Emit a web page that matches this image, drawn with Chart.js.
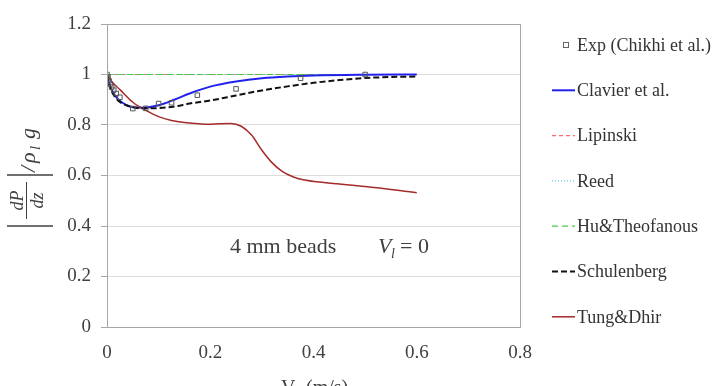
<!DOCTYPE html>
<html>
<head>
<meta charset="utf-8">
<script src="https://cdn.jsdelivr.net/npm/chart.js@4"></script>
<style>
  html, body { margin: 0; padding: 0; background: #fff; }
  #wrap { width: 717px; height: 386px; position: relative; }
</style>
</head>
<body>
<div id="wrap"><canvas id="chart"></canvas></div>
<script>
// values
const expX = [0, 0.002, 0.004, 0.006, 0.009, 0.013, 0.018, 0.025, 0.05, 0.075, 0.1, 0.125, 0.175, 0.25, 0.375, 0.5];
const expY = [1.0, 0.99, 0.975, 0.962, 0.95, 0.938, 0.925, 0.91, 0.865, 0.866, 0.885, 0.888, 0.918, 0.943, 0.985, 1.0];

const clavierX = [0, 0.005, 0.01, 0.02, 0.03, 0.04, 0.05, 0.07, 0.1, 0.13, 0.16, 0.2, 0.25, 0.3, 0.35, 0.4, 0.5, 0.6];
const clavierY = [1, 0.96, 0.935, 0.905, 0.888, 0.877, 0.871, 0.868, 0.878, 0.9, 0.925, 0.952, 0.972, 0.985, 0.992, 0.996, 0.999, 1.0];

const flatX = [0, 0.6];
const lipinskiY = [1, 1];
const reedY = [1, 1];
const huY = [1, 1];

const schulX = [0, 0.005, 0.01, 0.02, 0.03, 0.05, 0.07, 0.1, 0.13, 0.16, 0.2, 0.25, 0.3, 0.35, 0.4, 0.45, 0.5, 0.55, 0.6];
const schulY = [1, 0.955, 0.93, 0.9, 0.885, 0.87, 0.866, 0.867, 0.873, 0.885, 0.897, 0.917, 0.937, 0.953, 0.967, 0.978, 0.986, 0.99, 0.992];

const tungX = [0, 0.01, 0.025, 0.05, 0.078, 0.1, 0.125, 0.15, 0.2, 0.24, 0.26, 0.28, 0.3, 0.32, 0.34, 0.36, 0.38, 0.42, 0.5, 0.6];
const tungY = [1, 0.97, 0.94, 0.89, 0.855, 0.833, 0.818, 0.81, 0.803, 0.806, 0.795, 0.76, 0.7, 0.65, 0.615, 0.595, 0.583, 0.572, 0.556, 0.532];

const xTicks = [0, 0.2, 0.4, 0.6, 0.8];
const yTicks = [0, 0.2, 0.4, 0.6, 0.8, 1, 1.2];

const pts = (xs, ys) => xs.map((x, i) => ({ x: x, y: ys[i] }));

const SERIF = '"Liberation Serif", "Times New Roman", serif';
const TEXT = '#404040';

const datasets = [
    {
        label: 'Exp (Chikhi et al.)',
        data: pts(expX, expY),
        showLine: false,
        pointStyle: 'rect',
        pointRadius: 3.2,
        pointBorderColor: '#555',
        pointBackgroundColor: 'rgba(255,255,255,0)',
        pointBorderWidth: 1,
        order: 0
    }, {
        label: 'Clavier et al.',
        data: pts(clavierX, clavierY),
        borderColor: '#2222ee',
        borderWidth: 2,
        cubicInterpolationMode: 'monotone',
        order: 2
    }, {
        label: 'Lipinski',
        data: pts(flatX, lipinskiY),
        borderColor: '#ff6a6a',
        borderWidth: 1.2,
        borderDash: [4, 3],
        order: 5
    }, {
        label: 'Reed',
        data: pts(flatX, reedY),
        borderColor: '#5fd3ea',
        borderWidth: 1.2,
        borderDash: [1, 2],
        order: 4
    }, {
        label: 'Hu&Theofanous',
        data: pts(flatX, huY),
        borderColor: '#44cc44',
        borderWidth: 1.2,
        borderDash: [6, 4],
        order: 3
    }, {
        label: 'Schulenberg',
        data: pts(schulX, schulY),
        borderColor: '#111',
        borderWidth: 2,
        borderDash: [6, 3],
        cubicInterpolationMode: 'monotone',
        order: 1
    }, {
        label: 'Tung&Dhir',
        data: pts(tungX, tungY),
        borderColor: '#a52a2a',
        borderWidth: 1.5,
        cubicInterpolationMode: 'monotone',
        order: 1
    }
];
datasets.forEach(d => {
    if (d.showLine !== false) {
        d.showLine = true;
        d.pointRadius = 0;
        d.fill = false;
    }
});

// box around the plot area
const frame = {
    id: 'frame',
    afterDatasetsDraw(chart) {
        const { ctx, chartArea: a } = chart;
        ctx.save();
        ctx.strokeStyle = '#a6a6a6';
        ctx.lineWidth = 1;
        ctx.strokeRect(Math.round(a.left) + 0.5, Math.round(a.top) + 0.5, Math.round(a.right - a.left), Math.round(a.bottom - a.top));
        ctx.restore();
    }
};

// legend on the right, one item per dataset
const sideLegend = {
    id: 'sideLegend',
    afterDraw(chart) {
        const ctx = chart.ctx;
        const x0 = 552, x1 = 575, tx = 577;
        ctx.save();
        ctx.font = '18px ' + SERIF;
        ctx.textBaseline = 'middle';
        ctx.fillStyle = '#333';
        chart.data.datasets.forEach((d, i) => {
            const y = 45 + i * 45.3;
            if (d.showLine === false) {
                ctx.strokeStyle = '#666';
                ctx.lineWidth = 1;
                ctx.setLineDash([]);
                ctx.strokeRect(563.5, y - 2.5, 5, 5);
            } else {
                ctx.strokeStyle = d.borderColor;
                ctx.lineWidth = d.borderWidth;
                ctx.setLineDash(d.borderDash || []);
                ctx.beginPath();
                ctx.moveTo(x0, y);
                ctx.lineTo(x1, y);
                ctx.stroke();
            }
            ctx.fillText(d.label, tx, y + 1);
        });
        ctx.restore();
    }
};

// axis titles and the note inside the plot
const labels = {
    id: 'labels',
    afterDraw(chart) {
        const ctx = chart.ctx;
        ctx.save();
        ctx.fillStyle = TEXT;
        ctx.strokeStyle = TEXT;

        // y title |dP/dz| / rho_l g, turned on its side
        ctx.save();
        ctx.translate(30, 226);
        ctx.rotate(-Math.PI / 2);
        ctx.lineWidth = 1.5;
        ctx.beginPath();
        ctx.moveTo(0, -23); ctx.lineTo(0, 23);
        ctx.moveTo(51, -23); ctx.lineTo(51, 23);
        ctx.stroke();
        ctx.lineWidth = 1;
        ctx.beginPath();
        ctx.moveTo(7, -3.5); ctx.lineTo(44, -3.5);
        ctx.stroke();
        ctx.textAlign = 'center';
        ctx.textBaseline = 'alphabetic';
        ctx.font = 'italic 18px ' + SERIF;
        ctx.fillText('dP', 25.5, -7);
        ctx.fillText('dz', 25.5, 13);
        ctx.textAlign = 'left';
        ctx.font = 'italic 22px ' + SERIF;
        ctx.fillText('/', 54, 5);
        ctx.fillText('ρ', 63, 5);
        ctx.font = 'italic 15px ' + SERIF;
        ctx.fillText('l', 76, 10);
        ctx.font = 'italic 22px ' + SERIF;
        ctx.fillText('g', 87, 5);
        ctx.restore();

        // x title V_g (m/s)
        ctx.textBaseline = 'alphabetic';
        ctx.textAlign = 'left';
        ctx.font = '20px ' + SERIF;
        ctx.fillText('V', 281, 394);
        ctx.font = '13px ' + SERIF;
        ctx.fillText('g', 295, 398);
        ctx.font = '20px ' + SERIF;
        ctx.fillText('(m/s)', 306, 394);

        // note
        ctx.font = '22px ' + SERIF;
        ctx.fillText('4 mm beads', 230, 253);
        ctx.font = 'italic 22px ' + SERIF;
        ctx.fillText('V', 378, 253);
        ctx.font = 'italic 14px ' + SERIF;
        ctx.fillText('l', 391, 258);
        ctx.font = '22px ' + SERIF;
        ctx.fillText('= 0', 400, 253);
        ctx.restore();
    }
};

new Chart(document.getElementById('chart'), {
    type: 'scatter',
    data: { datasets: datasets },
    options: {
        responsive: true,
        maintainAspectRatio: false,
        animation: false,
        layout: { padding: { left: 0, right: 197, top: 24, bottom: 0 } },
        plugins: {
            legend: { display: false },
            tooltip: { enabled: false }
        },
        scales: {
            x: {
                type: 'linear',
                min: 0,
                max: 0.8,
                afterBuildTicks: (s) => { s.ticks = xTicks.map(v => ({ value: v })); },
                afterFit: (s) => { s.height = 59; },
                grid: { display: false, drawTicks: true, tickLength: 6, tickColor: '#a6a6a6' },
                border: { color: '#a6a6a6' },
                ticks: { color: TEXT, padding: 9, font: { family: SERIF, size: 19 }, callback: v => String(v) }
            },
            y: {
                type: 'linear',
                min: 0,
                max: 1.2,
                afterBuildTicks: (s) => { s.ticks = yTicks.map(v => ({ value: v })); },
                afterFit: (s) => { s.width = 107; },
                grid: { color: '#dcdcdc', tickLength: 6, tickColor: '#a6a6a6' },
                border: { color: '#a6a6a6' },
                ticks: { color: TEXT, padding: 10, font: { family: SERIF, size: 19 }, callback: v => String(v) }
            }
        }
    },
    plugins: [frame, sideLegend, labels]
});
</script>
</body>
</html>
